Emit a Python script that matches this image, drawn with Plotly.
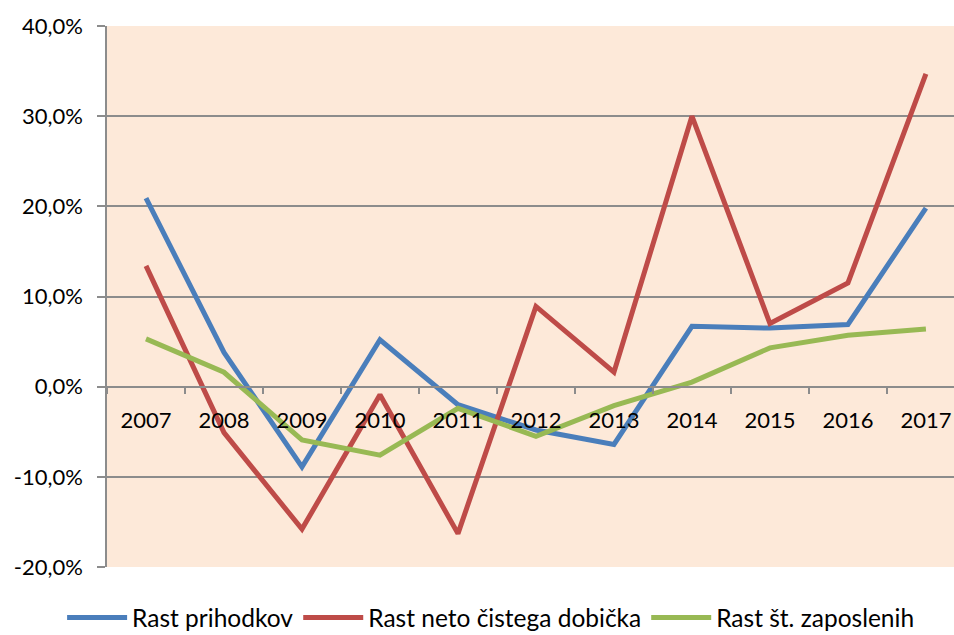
import plotly.graph_objects as go

years = ["2007", "2008", "2009", "2010", "2011", "2012", "2013", "2014", "2015", "2016", "2017"]
rast_prihodkov = [20.9, 3.8, -8.9, 5.2, -2.0, -4.8, -6.4, 6.7, 6.5, 6.9, 19.8]
rast_dobicka = [13.4, -5.1, -15.8, -0.9, -16.3, 8.9, 1.6, 30.0, 7.0, 11.5, 34.7]
rast_zaposlenih = [5.3, 1.6, -5.9, -7.6, -2.4, -5.5, -2.1, 0.5, 4.3, 5.7, 6.4]
series_names = ["Rast prihodkov", "Rast neto čistega dobička", "Rast št. zaposlenih"]
y_tickvals = [-20, -10, 0, 10, 20, 30, 40]
y_ticktext = ["-20,0%", "-10,0%", "0,0%", "10,0%", "20,0%", "30,0%", "40,0%"]

colors = ["#4A7EBB", "#BE4B48", "#98B954"]
FONT = "Lato, 'Open Sans', sans-serif"
GRID = "#8C8C8C"

fig = go.Figure()
for name, vals, col in zip(series_names, [rast_prihodkov, rast_dobicka, rast_zaposlenih], colors):
    fig.add_trace(go.Scatter(x=years, y=vals, mode="lines", name=name,
                             line=dict(color=col, width=5), hoverinfo="skip"))

fig.update_layout(
    width=954, height=635,
    margin=dict(l=107, r=0, t=26, b=68, autoexpand=False),
    paper_bgcolor="white",
    plot_bgcolor="#FDE9D9",
    font=dict(family=FONT, size=24, color="black"),
    showlegend=True,
    legend=dict(orientation="h", x=-0.053, xanchor="left", y=-0.052, yanchor="top",
                font=dict(size=24.5), itemwidth=60, tracegroupgap=0),
    xaxis=dict(type="category", range=[-0.5, 10.36], anchor="free", position=1/3,
               showline=True, linecolor=GRID, linewidth=1.5,
               ticks="outside", tickson="boundaries", ticklen=7, tickcolor=GRID, tickwidth=1.5,
               showgrid=False, zeroline=False, ticklabelstandoff=14,
               tickfont=dict(size=22), automargin=False),
    yaxis=dict(range=[-20, 40], tickvals=y_tickvals, ticktext=y_ticktext,
               showline=True, linecolor=GRID, linewidth=1.5,
               ticks="outside", ticklen=8, tickcolor=GRID, tickwidth=1.5,
               showgrid=True, gridcolor=GRID, gridwidth=1.5, zeroline=False,
               tickfont=dict(size=22), ticklabelstandoff=10, automargin=False),
)

page_fix = ("document.body.style.margin='0';"
            "document.body.style.overflow='hidden';"
            "document.documentElement.style.overflow='hidden';")
fig.write_html("out.html", post_script=page_fix, config={"displayModeBar": False})
